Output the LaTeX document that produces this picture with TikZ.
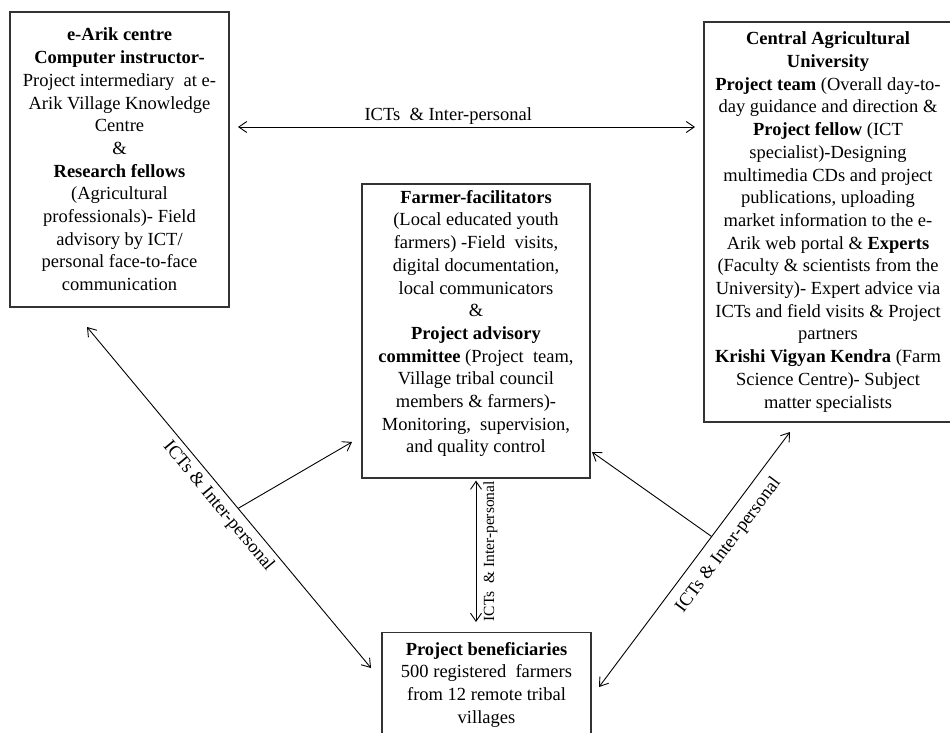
\documentclass[tikz,border=0pt]{standalone}
\usepackage{fontspec}
\setmainfont{Liberation Serif}
\usetikzlibrary{arrows.meta,calc}
\begin{document}
\begin{tikzpicture}[x=1pt,y=-1pt,
  boxtext/.style={align=center, font=\fontsize{18.5}{22.7}\selectfont, inner sep=0pt},
  frame/.style={draw=black!80, line width=1.2pt},
  link/.style={line width=0.9pt, {Straight Barb[length=8pt,width=11pt]}-{Straight Barb[length=8pt,width=11pt]}},
  oneway/.style={line width=0.9pt, -{Straight Barb[length=8pt,width=11pt]}},
  lbl/.style={font=\fontsize{18.5}{22}\selectfont, inner sep=5pt},
  smalllbl/.style={font=\fontsize{15.5}{18}\selectfont, inner sep=7pt}
]
\clip (0,0) rectangle (950,733);
\fill[white] (0,0) rectangle (950,733);

\node[frame, boxtext, minimum width=219pt, minimum height=295pt] (earik) at (119.5,159.5) {%
\textbf{e-Arik centre}\\
\textbf{Computer instructor-}\\
Project intermediary\ \ at e-\\
Arik Village Knowledge\\
Centre\\
\&\\
\textbf{Research fellows}\\
(Agricultural\\
professionals)- Field\\
advisory by ICT/\\
personal face-to-face\\
communication};

\node[frame, boxtext, minimum width=248pt, minimum height=400pt] (cau) at (828,222) {%
\textbf{Central Agricultural}\\
\textbf{University}\\
\textbf{Project team} (Overall day-to-\\
day guidance and direction \&\\
\textbf{Project fellow} (ICT\\
specialist)-Designing\\
multimedia CDs and project\\
publications, uploading\\
market information to the e-\\
Arik web portal \& \textbf{Experts}\\
(Faculty \& scientists from the\\
University)- Expert advice via\\
ICTs and field visits \& Project\\
partners\\
\textbf{Krishi Vigyan Kendra} (Farm\\
Science Centre)- Subject\\
matter specialists};

\node[frame, minimum width=228pt, minimum height=294pt] (ff) at (476,331) {};
\node[boxtext, anchor=north] (fftext) at (476,190) {%
\textbf{Farmer-facilitators}\\
(Local educated youth\\
farmers) -Field\ \ visits,\\
digital documentation,\\
local communicators\\
\&\\
\textbf{Project advisory}\\
\textbf{committee} (Project\ \ team,\\
Village tribal council\\
members \& farmers)-\\
Monitoring,\ \ supervision,\\
and quality control};

\node[frame, minimum width=209pt, minimum height=130pt, anchor=north] (benbox) at (486.5,632) {};
\node[boxtext, anchor=north] (ben) at (486.5,642) {%
\textbf{Project beneficiaries}\\
500 registered\ \ farmers\\
from 12 remote tribal\\
villages};

% horizontal link
\coordinate (hl) at (238,127);
\coordinate (hr) at (695,127);
\draw[link] (hl) -- node[pos=0.46, above, lbl, inner sep=2pt] {ICTs\ \ \& Inter-personal} (hr);

% left diagonal
\coordinate (d1a) at (87,327);
\coordinate (d1b) at (371,668);
\draw[link] (d1a) -- node[pos=0.5, sloped, below, lbl] {ICTs \& Inter-personal} (d1b);
\coordinate (b1) at ($(d1a)!0.532!(d1b)$);
\coordinate (t1) at (352,442);
\draw[oneway] (b1) -- (t1);

% right diagonal
\coordinate (d2a) at (599,687);
\coordinate (d2b) at (790,432);
\draw[link] (d2a) -- node[pos=0.6, sloped, below, lbl, inner sep=10pt] {ICTs \& Inter-personal} (d2b);
\coordinate (b2) at ($(d2a)!0.59!(d2b)$);
\coordinate (t2) at (592,452);
\draw[oneway] (b2) -- (t2);

% vertical link
\coordinate (va) at ([yshift=10pt]ff.south |- benbox.north);
\coordinate (vb) at ([yshift=-2pt]ff.south);
\draw[link] (va) -- node[midway, sloped, below, smalllbl] {ICTs\ \ \& Inter-personal} (vb);
\end{tikzpicture}
\end{document}
